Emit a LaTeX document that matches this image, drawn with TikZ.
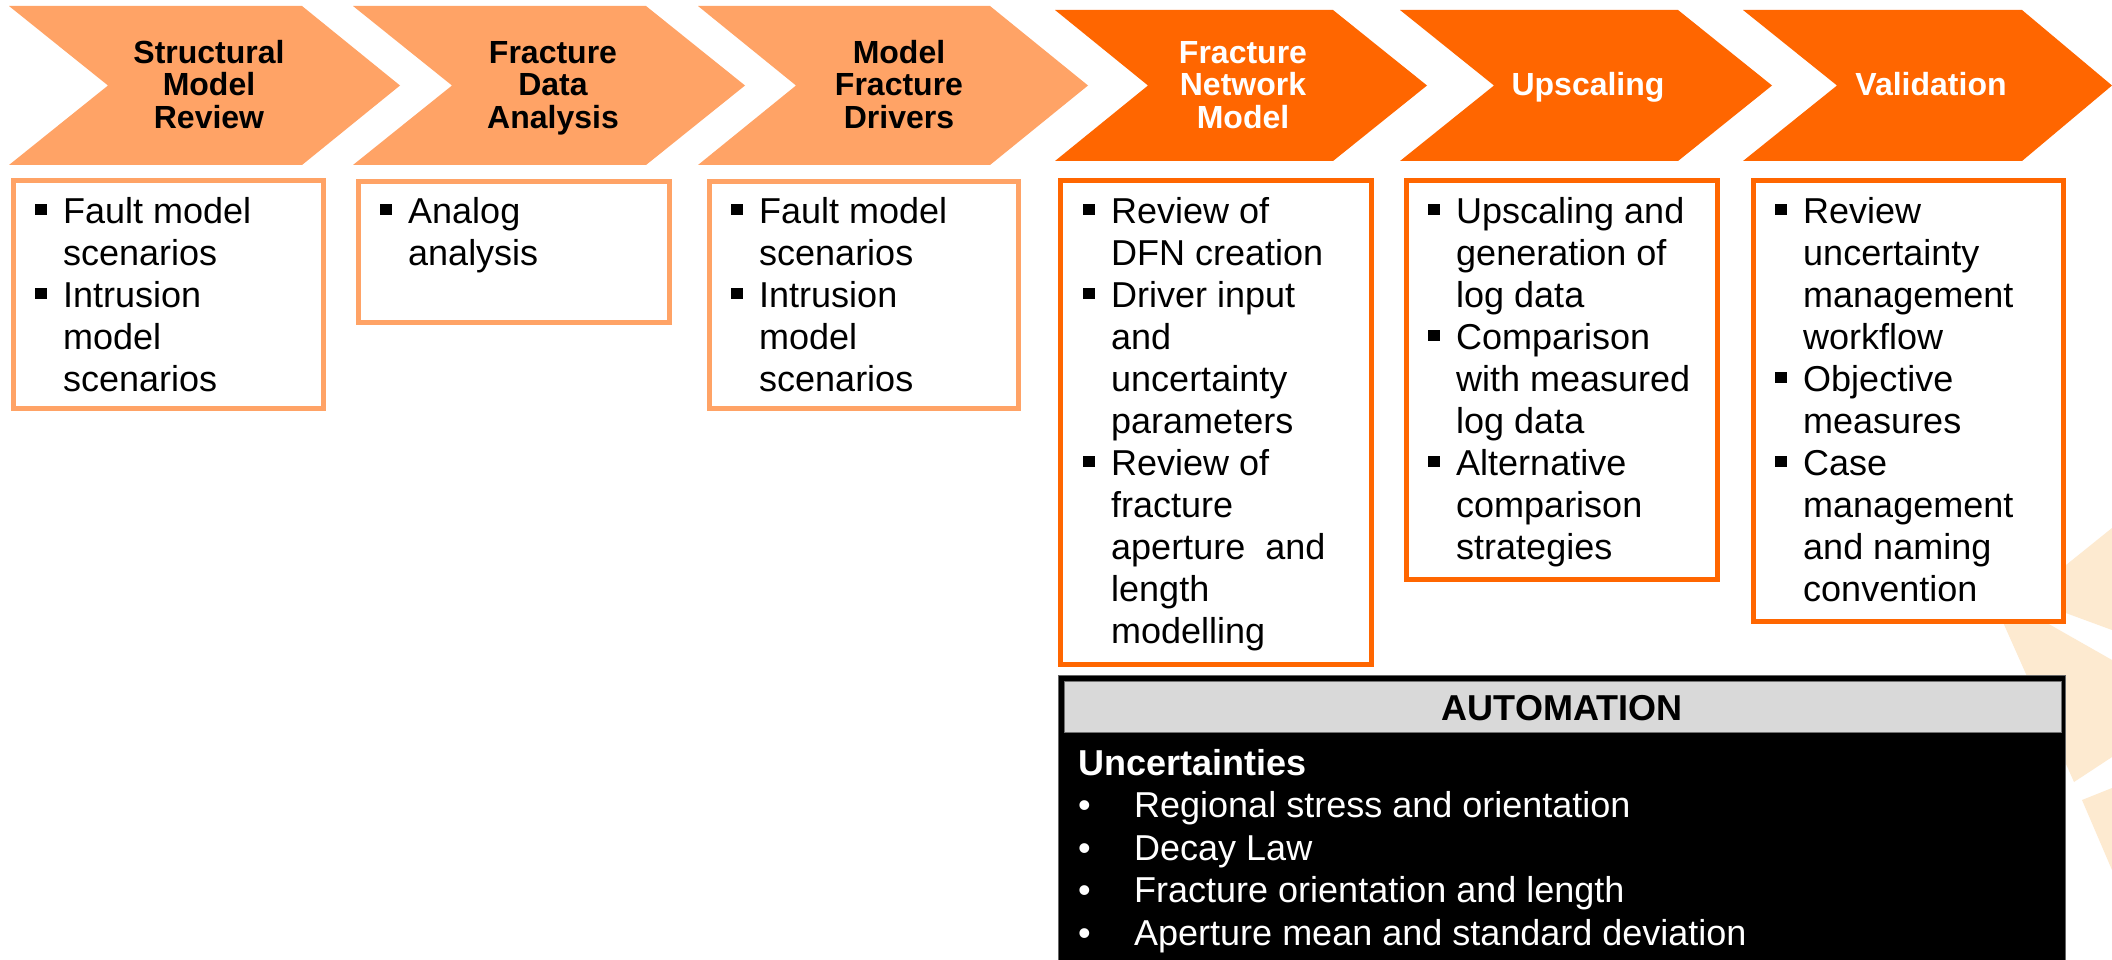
\documentclass[tikz,border=0pt]{standalone}
\usepackage{fontspec}
\setmainfont{Liberation Sans}
\definecolor{lightor}{RGB}{255,163,102}
\definecolor{darkor}{RGB}{255,102,0}
\definecolor{peach}{RGB}{253,234,208}
\definecolor{hdrgray}{RGB}{217,217,217}
\newcommand\sqb{\makebox[28pt][l]{\rule[8pt]{12pt}{11pt}}}
\newcommand\ind{\hspace*{28pt}}
\newcommand\fs{\rule{0pt}{30pt}}
\newcommand\dotb{\makebox[56pt][l]{•}}
\tikzset{
  lightchev/.style={fill=lightor},
  darkchev/.style={fill=darkor},
  chevtxt/.style={inner sep=0pt, anchor=north, align=center, font=\bfseries\fontsize{32}{32.5}\selectfont},
  boxtxt/.style={inner sep=0pt, anchor=north west, align=left, font=\fontsize{36}{42}\selectfont, text=black},
  lightbox/.style={draw=lightor, line width=5pt, fill=white},
  darkbox/.style={draw=darkor, line width=5pt, fill=white},
}
\begin{document}
\begin{tikzpicture}[x=1pt,y=-1pt]
\useasboundingbox (0,0) rectangle (2112,960);
\fill[white] (0,0) rectangle (2112,960);
% background peach shapes
\fill[peach] (2025,598) -- (2112,528) -- (2112,630) -- cycle;
\fill[peach] (2002,620) -- (2017,606) -- (2112,660) -- (2112,757) -- (2074,782) -- cycle;
\fill[peach] (2082,800) -- (2112,788) -- (2112,870) -- cycle;
% chevrons
\fill[lightchev] (9,6) -- (302,6) -- (400,85.5) -- (302,165) -- (9,165) -- (108,85.5) -- cycle;
\fill[lightchev] (353,6) -- (646,6) -- (745,85.5) -- (646,165) -- (353,165) -- (452,85.5) -- cycle;
\fill[lightchev] (698,6) -- (990,6) -- (1088,85.5) -- (990,165) -- (698,165) -- (796,85.5) -- cycle;
\fill[darkchev] (1055,10) -- (1333,10) -- (1427,85.5) -- (1333,161) -- (1055,161) -- (1148,85.5) -- cycle;
\fill[darkchev] (1400,10) -- (1678,10) -- (1772,85.5) -- (1678,161) -- (1400,161) -- (1494,85.5) -- cycle;
\fill[darkchev] (1743,10) -- (2022,10) -- (2112,85.5) -- (2022,161) -- (1743,161) -- (1837,85.5) -- cycle;
\node[chevtxt, text=black] (c1) at (209,33) {\fs Structural\\Model\\Review};
\node[chevtxt, text=black] (c2) at (553,33) {\fs Fracture\\Data\\Analysis};
\node[chevtxt, text=black] (c3) at (899,33) {\fs Model\\Fracture\\Drivers};
\node[chevtxt, text=white] (c4) at (1243,33) {\fs Fracture\\Network\\Model};
\node[chevtxt, text=white] (c5) at (1588,65) {\fs Upscaling};
\node[chevtxt, text=white] (c6) at (1931,65) {\fs Validation};
% boxes
\draw[lightbox] (13.5,180.5) rectangle (323.5,408.5);
\draw[lightbox] (358.5,181.5) rectangle (669.5,322.5);
\draw[lightbox] (709.5,181.5) rectangle (1018.5,408.5);
\draw[darkbox] (1060.5,180.5) rectangle (1371.5,664.5);
\draw[darkbox] (1406.5,180.5) rectangle (1717.5,579.5);
\draw[darkbox] (1753.5,180.5) rectangle (2063.5,621.5);
\node[boxtxt] (b1) at (35,193) {\fs\sqb Fault model\\\ind scenarios\\\sqb Intrusion\\\ind model\\\ind scenarios};
\node[boxtxt] (b2) at (380,193) {\fs\sqb Analog\\\ind analysis};
\node[boxtxt] (b3) at (731,193) {\fs\sqb Fault model\\\ind scenarios\\\sqb Intrusion\\\ind model\\\ind scenarios};
\node[boxtxt] (b4) at (1083,193) {\fs\sqb Review of\\\ind DFN creation\\\sqb Driver input\\\ind and\\\ind uncertainty\\\ind parameters\\\sqb Review of\\\ind fracture\\\ind aperture\ \ and\\\ind length\\\ind modelling};
\node[boxtxt] (b5) at (1428,193) {\fs\sqb Upscaling and\\\ind generation of\\\ind log data\\\sqb Comparison\\\ind with measured\\\ind log data\\\sqb Alternative\\\ind comparison\\\ind strategies};
\node[boxtxt] (b6) at (1775,193) {\fs\sqb Review\\\ind uncertainty\\\ind management\\\ind workflow\\\sqb Objective\\\ind measures\\\sqb Case\\\ind management\\\ind and naming\\\ind convention};
% automation box
\draw[fill=black, draw=black!60, line width=1.5pt] (1058.5,675.5) rectangle (2065.5,965);
\draw[fill=hdrgray, draw=black!55, line width=1pt] (1064,681) rectangle (2061,732);
\node[inner sep=0pt, anchor=base, font=\bfseries\fontsize{36}{42}\selectfont] (auto) at (1562,720) {AUTOMATION};
\node[boxtxt, text=white, font=\fontsize{36}{42.5}\selectfont] (unc) at (1078,745) {\fs\textbf{Uncertainties}\\\dotb Regional stress and orientation\\\dotb Decay Law\\\dotb Fracture orientation and length\\\dotb Aperture mean and standard deviation};
\end{tikzpicture}
\end{document}
